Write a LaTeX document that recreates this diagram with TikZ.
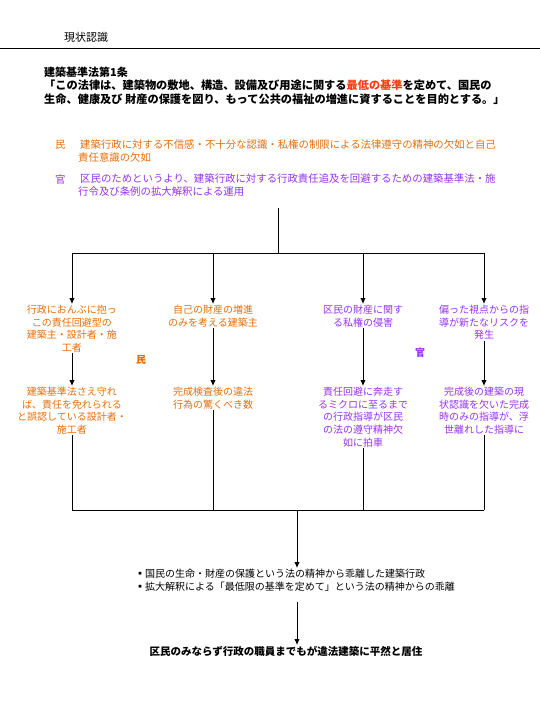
\documentclass[tikz,border=0pt]{standalone}
\usepackage{fontspec}
\setmainfont{Noto Sans CJK JP}
\usepackage{xcolor}
\usepackage{tikz}
\usetikzlibrary{arrows.meta, positioning}
\definecolor{minOrange}{RGB}{230, 110, 10}
\definecolor{kanPurple}{RGB}{150, 50, 240}
\definecolor{lawRed}{RGB}{250, 60, 20}

\begin{document}
\begin{tikzpicture}[x=1pt, y=-1pt,
    body/.style={inner sep=1pt, align=center, font=\fontsize{10}{12.6}\selectfont},
    mintext/.style={body, text=minOrange},
    kantext/.style={body, text=kanPurple},
    cause/.style={inner sep=1pt, align=left, font=\fontsize{10.4}{13}\selectfont},
    link/.style={line width=0.9pt},
    arrowlink/.style={link, -{Latex[length=6pt, width=5.5pt]}}]

    \useasboundingbox (0,0) rectangle (540,720);

    % header
    \node[anchor=west, inner sep=0pt, font=\fontsize{11}{13}\selectfont] (head) at (64,37) {現状認識};
    \draw[line width=0.8pt] (0,48) -- (540,48);

    % article 1
    \node[anchor=west, inner sep=0pt, font=\fontsize{11}{13}\selectfont\bfseries] (art) at (44,72) {建築基準法第1条};
    \node[anchor=north west, inner sep=0pt, align=left, font=\fontsize{11.2}{14}\selectfont\bfseries] (quote) at (44,80)
        {「この法律は、建築物の敷地、構造、設備及び用途に関する\textcolor{lawRed}{最低の基準}を定めて、国民の\\
         生命、健康及び\ 財産の保護を図り、もって公共の福祉の増進に資することを目的とする。」};

    % causes
    \node[cause, text=minOrange, anchor=west] (minlbl) at (54,145) {民};
    \node[cause, text=minOrange, anchor=north west] (mincause) at (77,138)
        {\hspace{2pt}建築行政に対する不信感・不十分な認識・私権の制限による法律遵守の精神の欠如と自己\\
         責任意識の欠如};
    \node[cause, text=kanPurple, anchor=west] (kanlbl) at (54,180) {官};
    \node[cause, text=kanPurple, anchor=north west] (kancause) at (77,173)
        {\hspace{2pt}区民のためというより、建築行政に対する行政責任追及を回避するための建築基準法・施\\
         行令及び条例の拡大解釈による運用};

    \coordinate (top) at (278,208);
    \coordinate (fork) at (278,253);

    % first row
    \node[mintext, anchor=north] (a1) at (72,304) {行政におんぶに抱っ\\この責任回避型の\\建築主・設計者・施\\工者};
    \node[mintext, anchor=north] (a2) at (213,304) {自己の財産の増進\\のみを考える建築主};
    \node[kantext, anchor=north] (a3) at (363,304) {区民の財産に関す\\る私権の侵害};
    \node[kantext, anchor=north] (a4) at (484,304) {偏った視点からの指\\導が新たなリスクを\\発生};

    \node[mintext, font=\fontsize{10}{12}\selectfont\bfseries] (minmark) at (141,360) {民};
    \node[kantext, font=\fontsize{10}{12}\selectfont\bfseries] (kanmark) at (420,353) {官};

    % second row
    \node[mintext, anchor=north] (b1) at (72,386) {建築基準法さえ守れ\\ば、責任を免れられる\\と誤認している設計者・\\施工者};
    \node[mintext, anchor=north] (b2) at (213,386) {完成検査後の違法\\行為の驚くべき数};
    \node[kantext, anchor=north] (b3) at (363,386) {責任回避に奔走す\\るミクロに至るまで\\の行政指導が区民\\の法の遵守精神欠\\如に拍車};
    \node[kantext, anchor=north] (b4) at (484,386) {完成後の建築の現\\状認識を欠いた完成\\時のみの指導が、浮\\世離れした指導に};

    \coordinate (join) at (297,510);

    % results
    \node[body, anchor=north west, align=left] (result) at (134,568)
        {▪国民の生命・財産の保護という法の精神から乖離した建築行政\\
         ▪拡大解釈による「最低限の基準を定めて」という法の精神からの乖離};
    \node[body, anchor=north, font=\fontsize{10.5}{12}\selectfont\bfseries] (final) at (286,645)
        {区民のみならず行政の職員までもが違法建築に平然と居住};

    % connectors
    \draw[link] (top) -- (fork);
    \draw[link] (a1 |- fork) -- (a4 |- fork);
    \foreach \n in {a1,a2,a3,a4}
        \draw[arrowlink] (\n |- fork) -- (\n.north);
    \foreach \n in {1,2,3,4}
        \draw[arrowlink] (a\n.south) -- (b\n.north);
    \foreach \n in {b1,b2,b3,b4}
        \draw[link] (\n.south) -- (\n |- join);
    \draw[link] (b1 |- join) -- (b4 |- join);
    \draw[arrowlink] (join) -- (join |- result.north);
    \draw[arrowlink] (result.south -| join) ++(0,10) coordinate (down) (down) -- (final.north -| join);

\end{tikzpicture}
\end{document}
